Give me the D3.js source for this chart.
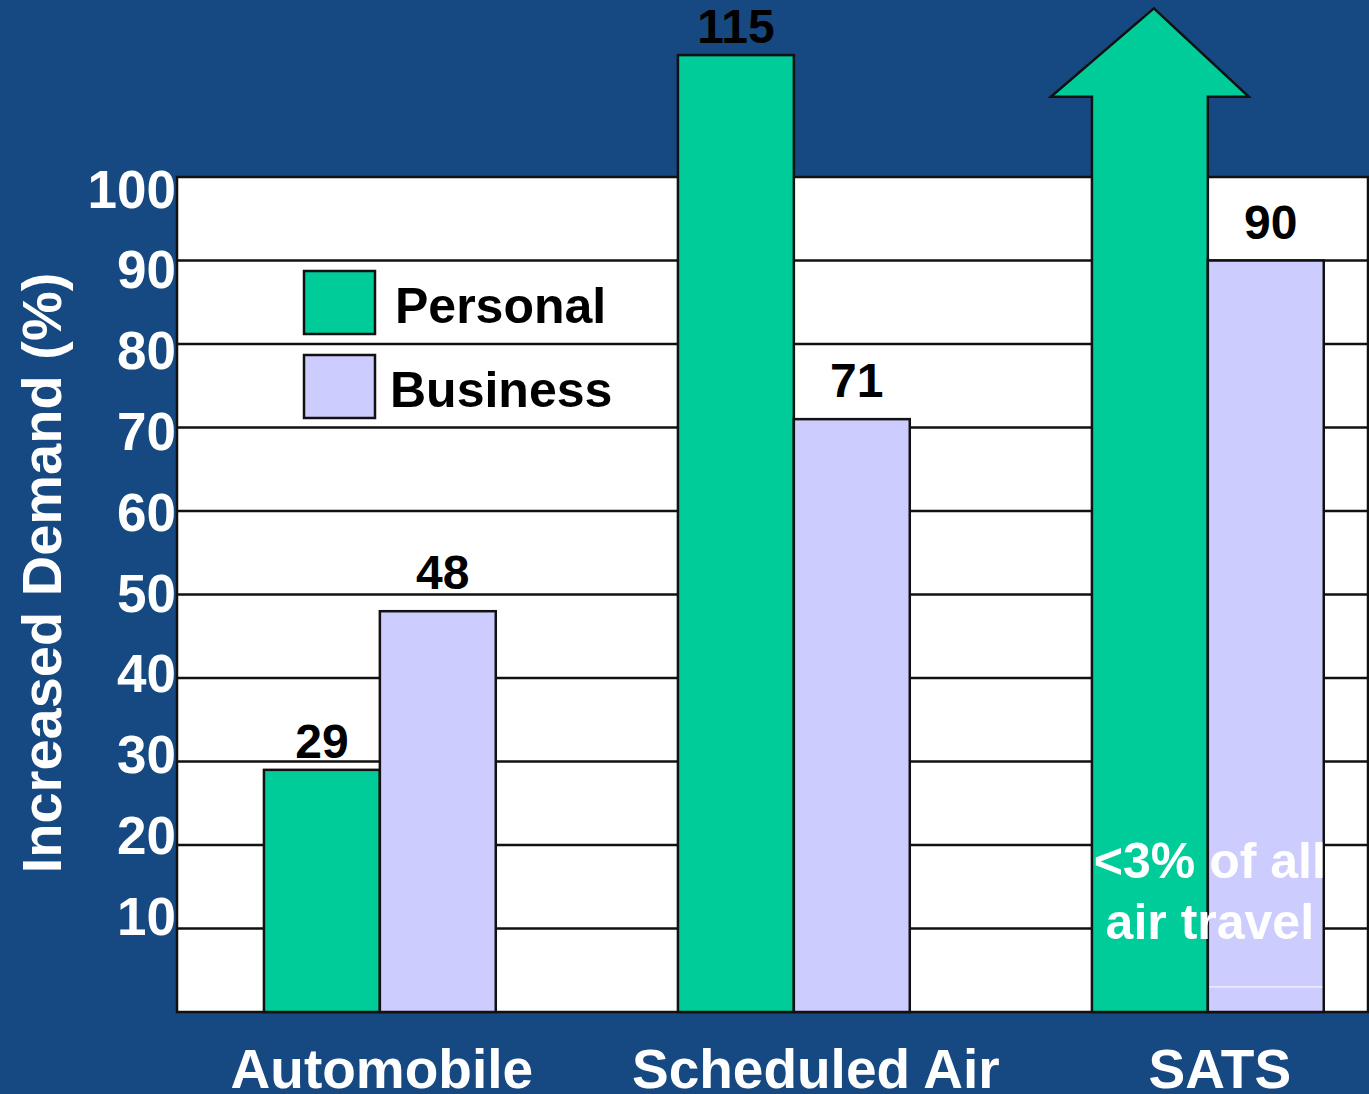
<!DOCTYPE html>
<html>
<head>
<meta charset="utf-8">
<script src="https://cdn.jsdelivr.net/npm/d3@7"></script>
<style>
  html, body { margin: 0; padding: 0; background: #164882; }
  svg { display: block; }
  text { font-family: "Liberation Sans", Arial, sans-serif; font-weight: bold; }
</style>
</head>
<body>
<svg id="chart" width="1369" height="1094"></svg>
<script>
// data
var categories = ["Automobile", "Scheduled Air", "SATS"];
var series = ["Personal", "Business"];
var personal = [29, 114.6, 120.2];    // SATS personal runs off the scale -> drawn as an arrow
var personalLabels = ["29", "115", ""];
var business = [48, 71, 90];
var businessLabels = ["48", "71", "90"];
var yTicks = [10, 20, 30, 40, 50, 60, 70, 80, 90, 100];
var satsShare = 3;                    // "<3% of all air travel" marker
var noteLines = ["<3% of all", "air travel"];

var colors = { Personal: "#00CC99", Business: "#CCCCFF" };

var svg = d3.select("#chart");
var W = 1369, H = 1094;
var plotL = 177, plotR = 1368, plotT = 177, plotB = 1012;

svg.append("rect").attr("width", W).attr("height", H).attr("fill", "#164882");

var y = d3.scaleLinear().domain([0, 100]).range([plotB, plotT]);
// tick labels sit in their own text box, a bit tighter than the grid
var yLab = d3.scaleLinear().domain([0, 100]).range([996, 188]);

var x0 = d3.scaleBand().domain(categories)
    .range([177, 1410.7]).paddingInner(0.44).paddingOuter(0.21);
var x1 = d3.scaleBand().domain(series).range([0, x0.bandwidth()]);

// plot area
svg.append("rect")
    .attr("x", plotL).attr("y", plotT)
    .attr("width", plotR - plotL).attr("height", plotB - plotT)
    .attr("fill", "#fff").attr("stroke", "#111").attr("stroke-width", 2.5);

svg.append("g").selectAll("line")
    .data(yTicks.filter(function (d) { return d < 100; }))
    .join("line")
    .attr("x1", plotL).attr("x2", plotR)
    .attr("y1", function (d) { return y(d); })
    .attr("y2", function (d) { return y(d); })
    .attr("stroke", "#111").attr("stroke-width", 2.5);

// y axis labels
var yAxis = svg.append("g")
    .attr("transform", "translate(" + (plotL - 1) + ",0)")
    .call(d3.axisLeft(yLab).tickValues(yTicks).tickSize(0).tickPadding(0));
yAxis.select(".domain").remove();
yAxis.selectAll("text")
    .attr("fill", "#fff")
    .style("font-size", "53px")
    .style("font-weight", "bold")
    .style("font-family", "'Liberation Sans', Arial, sans-serif")
    .attr("dy", "0.36em");

svg.append("text")
    .attr("transform", "translate(61,573) rotate(-90)")
    .attr("text-anchor", "middle")
    .attr("fill", "#fff")
    .style("font-size", "56px")
    .text("Increased Demand (%)");

// bars
var groups = svg.append("g").selectAll("g")
    .data(categories)
    .join("g")
    .attr("transform", function (d) { return "translate(" + x0(d) + ",0)"; });

groups.each(function (cat, i) {
    var g = d3.select(this);
    var bw = x1.bandwidth();
    var px = x1("Personal"), bx = x1("Business");

    if (cat === "SATS") {
        // personal demand shown as an arrow leaving the chart
        var headBase = y(personal[i] - 10.6), tip = y(personal[i]);
        var cx = px + bw / 2;
        var pts = [
            [px, plotB], [px, headBase], [cx - 99, headBase], [cx + 4, tip],
            [cx + 99, headBase], [px + bw, headBase], [px + bw, plotB]
        ];
        g.append("path")
            .attr("d", d3.line()(pts) + "Z")
            .attr("fill", colors.Personal)
            .attr("stroke", "#111").attr("stroke-width", 2.5)
            .attr("stroke-linejoin", "miter");
    } else {
        g.append("rect")
            .attr("x", px).attr("y", y(personal[i]))
            .attr("width", bw).attr("height", plotB - y(personal[i]))
            .attr("fill", colors.Personal)
            .attr("stroke", "#111").attr("stroke-width", 2.5);
    }

    g.append("rect")
        .attr("x", bx).attr("y", y(business[i]))
        .attr("width", bw).attr("height", plotB - y(business[i]))
        .attr("fill", colors.Business)
        .attr("stroke", "#111").attr("stroke-width", 2.5);

    g.append("text")
        .attr("x", px + bw / 2).attr("y", y(personal[i]) - 12)
        .attr("text-anchor", "middle").attr("fill", "#000")
        .style("font-size", "48px")
        .text(personalLabels[i]);

    g.append("text")
        .attr("x", bx + bw / 2 + 5).attr("y", y(business[i]) - 22)
        .attr("text-anchor", "middle").attr("fill", "#000")
        .style("font-size", "48px")
        .text(businessLabels[i]);

    if (cat === "SATS") {
        g.append("line")
            .attr("x1", bx + 1.5).attr("x2", bx + bw - 1.5)
            .attr("y1", y(satsShare)).attr("y2", y(satsShare))
            .attr("stroke", "#fff").attr("stroke-width", 1);
        g.selectAll("text.note")
            .data(noteLines)
            .join("text")
            .attr("class", "note")
            .attr("x", bw + 2).attr("y", function (d, k) { return 878 + k * 61; })
            .attr("text-anchor", "middle").attr("fill", "#fff")
            .style("font-size", "50px")
            .text(function (d) { return d; });
    }
});

// category labels
var catShift = [2, 22, 12];
svg.append("g").selectAll("text")
    .data(categories)
    .join("text")
    .attr("x", function (d, i) { return x0(d) + x0.bandwidth() / 2 + catShift[i]; })
    .attr("y", 1088)
    .attr("text-anchor", "middle").attr("fill", "#fff")
    .style("font-size", "55px")
    .text(function (d) { return d; });

// legend
var legend = svg.append("g").selectAll("g")
    .data(series)
    .join("g")
    .attr("transform", function (d, i) { return "translate(304," + (271 + i * 84) + ")"; });
legend.append("rect")
    .attr("width", 71).attr("height", 63)
    .attr("fill", function (d) { return colors[d]; })
    .attr("stroke", "#111").attr("stroke-width", 2.5);
legend.append("text")
    .attr("x", function (d, i) { return i === 0 ? 91 : 86; })
    .attr("y", 52)
    .attr("fill", "#000")
    .style("font-size", "50px")
    .text(function (d) { return d; });
</script>
</body>
</html>
